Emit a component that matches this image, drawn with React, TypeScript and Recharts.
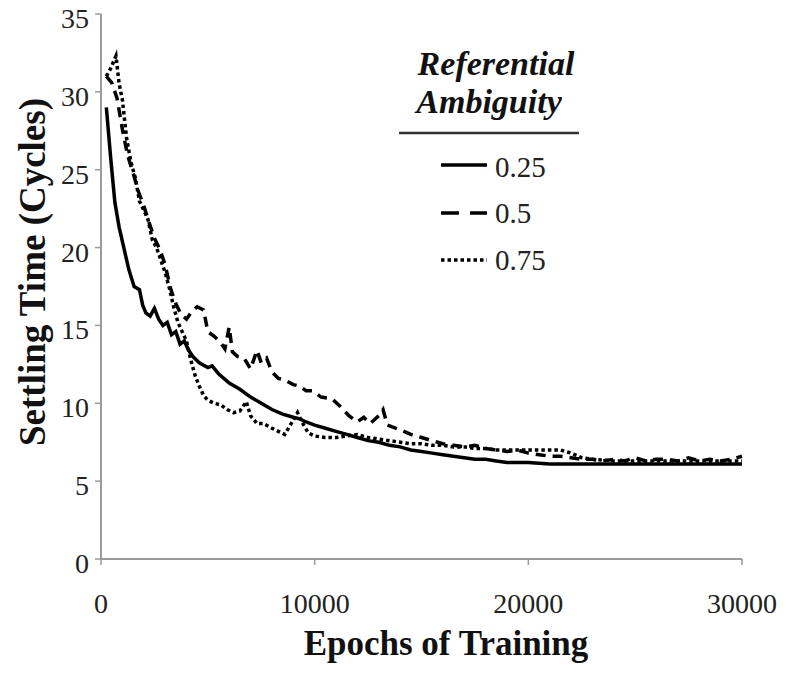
import React from 'react';
import { LineChart, Line, XAxis, YAxis } from 'recharts';

// Settling time vs epochs for three levels of referential ambiguity
const solidEpochs = [
  250, 450, 650, 850, 1050, 1300, 1550, 1800, 1950, 2100, 2300, 2500, 2700, 2900, 3100,
  3300, 3500, 3700, 3900, 4100, 4300, 4600, 5000, 5200, 5500, 6000, 6500, 7000, 7500,
  8000, 8500, 9000, 9300, 9600, 10000, 10500, 11000, 11500, 12000, 12500, 13000, 13500,
  14000, 14500, 15000, 15500, 16000, 16500, 17000, 17500, 18000, 18500, 19000, 19500,
  20000, 21000, 22000, 23000, 24000, 25000, 26000, 27000, 28000, 29000, 30000,
];
const solidValues = [
  29.0, 25.8, 22.9, 21.3, 20.1, 18.6, 17.5, 17.3, 16.3, 15.8, 15.6, 16.1, 15.4, 15.0, 15.2,
  14.4, 14.6, 13.8, 14.0, 13.4, 13.0, 12.6, 12.3, 12.4, 11.9, 11.3, 10.9, 10.4, 10.0,
  9.6, 9.3, 9.1, 9.0, 8.8, 8.6, 8.4, 8.2, 8.0, 7.8, 7.6, 7.5, 7.3,
  7.2, 7.0, 6.9, 6.8, 6.7, 6.6, 6.5, 6.4, 6.4, 6.3, 6.2, 6.2,
  6.2, 6.1, 6.1, 6.1, 6.1, 6.1, 6.1, 6.1, 6.1, 6.1, 6.1,
];

const dashedEpochs = [
  250, 500, 750, 1000, 1250, 1500, 1750, 2000, 2250, 2500, 2750, 3000, 3250, 3500, 3750,
  4000, 4250, 4500, 4800, 5000, 5300, 5600, 5800, 6000, 6150, 6400, 6700, 7000, 7300,
  7500, 7750, 8000, 8300, 8600, 9000, 9300, 9600, 9900, 10300, 10800, 11200, 11600,
  12000, 12300, 12600, 13000, 13200, 13400, 14000, 14500, 15000, 15500, 16000, 16500,
  17000, 17500, 18000, 18500, 19000, 19500, 20000, 20500, 21000, 21500, 22000, 22500,
  23000, 23500, 24000, 24500, 25000, 25500, 26000, 26500, 27000, 27500, 28000, 28500,
  29000, 29500, 30000,
];
const dashedValues = [
  31.0, 30.6, 29.6, 27.6, 25.9, 24.8, 23.6, 22.7, 21.6, 20.6, 19.9, 18.9, 17.4, 16.4, 15.7,
  15.4, 15.9, 16.2, 16.0, 14.6, 14.3, 13.9, 13.5, 14.9, 13.3, 13.0, 12.9, 12.2, 13.4,
  12.6, 12.9, 12.0, 11.6, 11.5, 11.2, 11.1, 10.8, 10.8, 10.4, 10.3, 9.8, 9.2,
  8.8, 9.1, 8.7, 9.2, 9.6, 8.6, 8.3, 8.0, 7.8, 7.6, 7.4, 7.3,
  7.2, 7.3, 7.1, 7.0, 6.9, 7.0, 6.8, 6.7, 6.6, 6.6, 6.5, 6.4,
  6.4, 6.3, 6.4, 6.3, 6.5, 6.3, 6.4, 6.4, 6.3, 6.5, 6.3, 6.4,
  6.3, 6.4, 6.6,
];

const dottedEpochs = [
  250, 450, 700, 850, 1000, 1200, 1400, 1600, 1800, 2000, 2200, 2400, 2600, 2800, 3000,
  3200, 3400, 3600, 3800, 4000, 4200, 4400, 4600, 4800, 5000, 5300, 5600, 5900, 6200,
  6500, 6800, 7000, 7300, 7600, 8000, 8300, 8600, 8900, 9200, 9400, 9700, 10000, 10500,
  11000, 11500, 12000, 12500, 13000, 13500, 14000, 14500, 15000, 15500, 16000, 16500,
  17000, 17500, 18000, 18500, 19000, 19500, 20000, 20500, 21000, 21500, 22000, 22500,
  23000, 24000, 25000, 26000, 27000, 28000, 29000, 30000,
];
const dottedValues = [
  31.0, 31.5, 32.3, 30.5, 29.5, 27.0, 25.5, 24.5, 23.0, 22.4, 21.8, 20.5, 20.0, 19.2, 18.4,
  17.4, 16.2, 15.2, 14.6, 14.0, 12.8, 11.8, 11.1, 10.5, 10.2, 10.0, 9.9, 9.6, 9.4,
  9.5, 10.1, 9.2, 8.7, 8.7, 8.4, 8.2, 8.0, 8.7, 9.4, 8.8, 8.1, 7.9, 7.8,
  7.8, 7.9, 8.0, 7.8, 7.7, 7.6, 7.5, 7.4, 7.4, 7.3, 7.3, 7.2,
  7.2, 7.1, 7.1, 7.0, 7.0, 7.0, 7.0, 7.0, 7.0, 7.0, 6.8, 6.5,
  6.4, 6.3, 6.3, 6.3, 6.3, 6.3, 6.3, 6.3,
];

const xTicks = [0, 10000, 20000, 30000];
const yTicks = [0, 5, 10, 15, 20, 25, 30, 35];

const FONT = '"Liberation Serif", "Times New Roman", serif';
const AXIS_GRAY = '#9a9a9a';

const toPoints = (xs: number[], ys: number[]) => xs.map((x, i) => ({ x, v: ys[i] }));

const solidData = toPoints(solidEpochs, solidValues);
const dashedData = toPoints(dashedEpochs, dashedValues);
const dottedData = toPoints(dottedEpochs, dottedValues);

const YTick = ({ x, y, payload }: any) => (
  <text x={x} y={y + 14} textAnchor="end" fontFamily={FONT} fontSize={28} fill="#222">
    {payload.value}
  </text>
);

const XTick = ({ x, y, payload }: any) => (
  <text x={x} y={y + 46} textAnchor="middle" fontFamily={FONT} fontSize={28} fill="#222">
    {payload.value}
  </text>
);

// legend drawn as an overlay so it doesn't eat into the plot area
const LegendBox = () => (
  <svg width={200} height={240} style={{ position: 'absolute', left: 395, top: 40 }}>
    <text x={101} y={35} textAnchor="middle" fontFamily={FONT} fontSize={34} fontWeight="bold" fontStyle="italic" fill="#111">
      Referential
    </text>
    <text x={94} y={73} textAnchor="middle" fontFamily={FONT} fontSize={34} fontWeight="bold" fontStyle="italic" fill="#111">
      Ambiguity
    </text>
    <line x1={4} x2={184} y1={93} y2={93} stroke="#333" strokeWidth={2.5} />
    <line x1={46} x2={92} y1={125} y2={125} stroke="#000" strokeWidth={3.5} />
    <text x={100} y={137} fontFamily={FONT} fontSize={29} fill="#222">0.25</text>
    <line x1={46} x2={92} y1={173} y2={173} stroke="#000" strokeWidth={3.5} strokeDasharray="18 11" />
    <text x={100} y={183} fontFamily={FONT} fontSize={29} fill="#222">0.5</text>
    <line x1={46} x2={92} y1={220} y2={220} stroke="#000" strokeWidth={3.5} strokeDasharray="3.5 3" />
    <text x={100} y={230} fontFamily={FONT} fontSize={29} fill="#222">0.75</text>
  </svg>
);

export default function App() {
  return (
    <div style={{ position: 'absolute', left: 0, top: 0, width: 793, height: 679, background: '#fff' }}>
      <LineChart width={793} height={679} margin={{ top: 14, right: 51, bottom: 20, left: 41 }}>
        <XAxis
          type="number"
          dataKey="x"
          domain={[0, 30000]}
          ticks={xTicks}
          allowDuplicatedCategory={false}
          axisLine={{ stroke: AXIS_GRAY, strokeWidth: 2 }}
          tickLine={{ stroke: AXIS_GRAY, strokeWidth: 1.5 }}
          tickSize={6}
          height={100}
          tick={<XTick />}
          label={{
            content: () => (
              <text x={446} y={655} textAnchor="middle" fontFamily={FONT} fontSize={35} fontWeight="bold" fill="#111">
                Epochs of Training
              </text>
            ),
          }}
        />
        <YAxis
          type="number"
          domain={[0, 35]}
          ticks={yTicks}
          axisLine={{ stroke: AXIS_GRAY, strokeWidth: 2 }}
          tickLine={{ stroke: AXIS_GRAY, strokeWidth: 1.5 }}
          tickSize={6}
          tickMargin={6}
          width={60}
          tick={<YTick />}
          label={{
            content: () => (
              <text
                x={45}
                y={272}
                transform="rotate(-90 45 272)"
                textAnchor="middle"
                fontFamily={FONT}
                fontSize={37}
                fontWeight="bold"
                fill="#111"
              >
                Settling Time (Cycles)
              </text>
            ),
          }}
        />
        <Line data={solidData} dataKey="v" name="0.25" stroke="#000" strokeWidth={3.5} dot={false} isAnimationActive={false} />
        <Line data={dashedData} dataKey="v" name="0.5" stroke="#000" strokeWidth={3.5} strokeDasharray="10 7" dot={false} isAnimationActive={false} />
        <Line data={dottedData} dataKey="v" name="0.75" stroke="#000" strokeWidth={3.5} strokeDasharray="3.5 3" dot={false} isAnimationActive={false} />
      </LineChart>
      <LegendBox />
    </div>
  );
}
